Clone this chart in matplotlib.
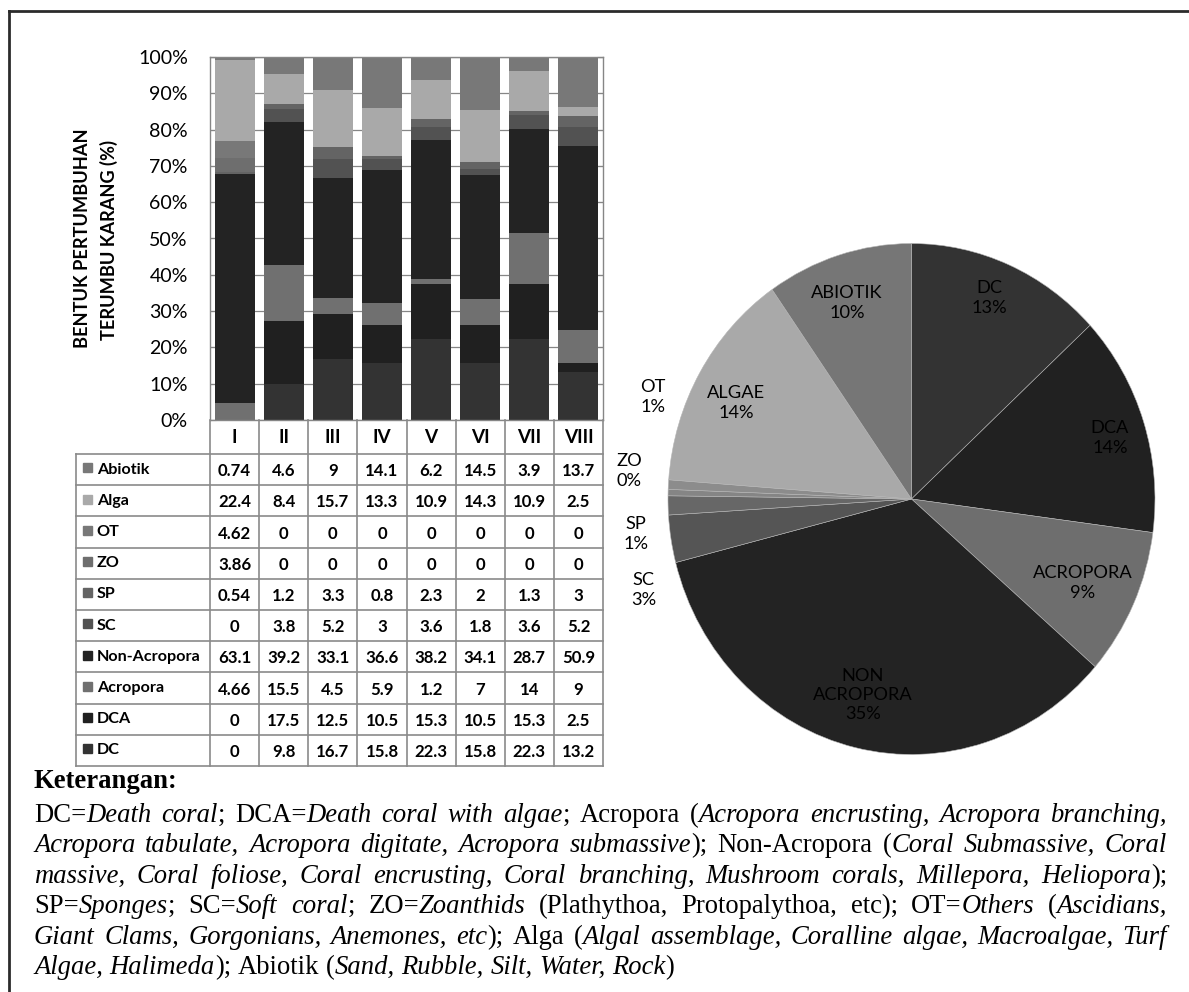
import numpy as np
import matplotlib
matplotlib.use('Agg')
import matplotlib.pyplot as plt
from matplotlib.patches import Rectangle

W, H = 1189, 992

# ---- data ----
stations = ['I', 'II', 'III', 'IV', 'V', 'VI', 'VII', 'VIII']

# stack order, bottom first
series = ['DC', 'DCA', 'Acropora', 'Non-Acropora', 'SC', 'SP', 'ZO', 'OT', 'Alga', 'Abiotik']
dc = [0, 9.8, 16.7, 15.8, 22.3, 15.8, 22.3, 13.2]
dca = [0, 17.5, 12.5, 10.5, 15.3, 10.5, 15.3, 2.5]
acropora = [4.66, 15.5, 4.5, 5.9, 1.2, 7, 14, 9]
non_acropora = [63.1, 39.2, 33.1, 36.6, 38.2, 34.1, 28.7, 50.9]
sc = [0, 3.8, 5.2, 3, 3.6, 1.8, 3.6, 5.2]
sp = [0.54, 1.2, 3.3, 0.8, 2.3, 2, 1.3, 3]
zo = [3.86, 0, 0, 0, 0, 0, 0, 0]
ot = [4.62, 0, 0, 0, 0, 0, 0, 0]
alga = [22.4, 8.4, 15.7, 13.3, 10.9, 14.3, 10.9, 2.5]
abiotik = [0.74, 4.6, 9, 14.1, 6.2, 14.5, 3.9, 13.7]
values = [dc, dca, acropora, non_acropora, sc, sp, zo, ot, alga, abiotik]
colors = ['#333333', '#202020', '#707070', '#232323', '#525252',
          '#646464', '#6e6e6e', '#787878', '#a9a9a9', '#787878']

pie_labels = ['DC', 'DCA', 'ACROPORA', 'NON\nACROPORA', 'SC', 'SP', 'ZO', 'OT', 'ALGAE', 'ABIOTIK']
pie_values = [13.1, 14.0, 9.3, 34.6, 3.0, 1.2, 0.4, 0.6, 14.1, 9.7]
pie_colors = ['#333333', '#212121', '#6e6e6e', '#232323', '#555555',
              '#676767', '#858585', '#8c8c8c', '#a9a9a9', '#767676']
# where Excel put each label (pie radius units)
pie_label_pos = [(0.318, 0.787), (0.815, 0.239), (0.704, -0.329), (-0.199, -0.767),
                 (-1.099, -0.356), (-1.131, -0.137), (-1.160, 0.110), (-1.062, 0.399),
                 (-0.721, 0.376), (-0.265, 0.767)]

caption_title = 'Keterangan:'
caption = [
    [('DC=', 0), ('Death coral', 1), ('; DCA=', 0), ('Death coral with algae', 1), ('; Acropora (', 0),
     ('Acropora encrusting, Acropora branching,', 1)],
    [('Acropora tabulate, Acropora digitate, Acropora submassive', 1), ('); Non-Acropora (', 0),
     ('Coral Submassive, Coral', 1)],
    [('massive, Coral foliose, Coral encrusting, Coral branching, Mushroom corals, Millepora, Heliopora', 1),
     (');', 0)],
    [('SP=', 0), ('Sponges', 1), ('; SC=', 0), ('Soft coral', 1), ('; ZO=', 0), ('Zoanthids', 1),
     (' (Plathythoa, Protopalythoa, etc); OT=', 0), ('Others', 1), (' (', 0), ('Ascidians,', 1)],
    [('Giant Clams, Gorgonians, Anemones, etc', 1), ('); Alga (', 0),
     ('Algal assemblage, Coralline algae, Macroalgae, Turf', 1)],
    [('Algae, Halimeda', 1), ('); Abiotik (', 0), ('Sand, Rubble, Silt, Water, Rock', 1), (')', 0)],
]

plt.rcParams['font.family'] = ['Lato', 'DejaVu Sans']


def box(l, t, r, b):
    return [l / W, 1 - b / H, (r - l) / W, (b - t) / H]


fig = plt.figure(figsize=(W / 100, H / 100), dpi=100)
fig.patch.set_facecolor('white')
renderer = fig.canvas.get_renderer()


def text_w(s, size, **kw):
    t = fig.text(0, 0, s, fontsize=size, **kw)
    w = t.get_window_extent(renderer).width
    t.remove()
    return w


def fit(s, target, **kw):
    # font size that makes s about target pixels wide
    return 10 * target / text_w(s, 10, **kw)


tick_size = fit('100%', 50)
ylab_size = fit('BENTUK PERTUMBUHAN', 221, fontweight='bold')
lab_size = fit('Non-Acropora', 104, fontweight='bold')
num_size = fit('63.1', 33, fontweight='bold')
head_size = fit('VIII', 30, fontweight='bold')
pie_size = fit('ACROPORA', 99)

# frame of the figure (left and top edges)
fig.add_artist(plt.Line2D([8.5 / W, 8.5 / W], [0, 1 - 10.5 / H], color='#2b2b2b', lw=2))
fig.add_artist(plt.Line2D([8.5 / W, 1], [1 - 10.5 / H, 1 - 10.5 / H], color='#2b2b2b', lw=2))

# ---- stacked 100% bars ----
ax = fig.add_axes(box(210, 57, 603, 420))
x = np.arange(len(stations))
totals = np.sum(np.array(values, dtype=float), axis=0)
bottom = np.zeros(len(stations))
for vals, c in zip(values, colors):
    pct = np.array(vals) / totals * 100
    ax.bar(x, pct, width=0.815, bottom=bottom, color=c, linewidth=0, zorder=2)
    bottom += pct
ax.set_xlim(-0.5, len(stations) - 0.5)
ax.set_ylim(0, 100)
ax.set_yticks(np.arange(0, 101, 10))
ax.set_yticklabels([f'{v}%' for v in range(0, 101, 10)])
ax.set_xticks([])
ax.yaxis.grid(True, color='#868686', lw=0.9, zorder=0)
ax.set_axisbelow(True)
for s in ax.spines.values():
    s.set_color('#868686')
    s.set_linewidth(1.0)
ax.tick_params(axis='y', direction='in', length=4, pad=16, left=True, right=True,
               color='#868686', labelsize=tick_size, labelcolor='black')

# two-line axis title, placed line by line
fig.text(83 / W, 1 - 238 / H, 'BENTUK PERTUMBUHAN', rotation=90,
         ha='center', va='center', fontsize=ylab_size, fontweight='bold')
fig.text(109 / W, 1 - 240 / H, 'TERUMBU KARANG (%)', rotation=90,
         ha='center', va='center', fontsize=ylab_size, fontweight='bold')

# ---- data table under the bars ----
lab_w = (210 - 75.7) / 49.1
hh = 34 / 31.2
nrow = len(series)
tax = fig.add_axes(box(75.7, 420, 603, 766))
tax.set_xlim(-0.5 - lab_w, len(stations) - 0.5)
tax.set_ylim(hh + nrow, 0)
tax.axis('off')
lc, lw = '#8a8a8a', 1.2
x0 = -0.5 - lab_w
x1 = len(stations) - 0.5
for i in range(nrow + 1):
    tax.plot([x0, x1], [hh + i, hh + i], color=lc, lw=lw, clip_on=False)
for k in range(len(stations) + 1):
    tax.plot([k - 0.5, k - 0.5], [0, hh + nrow], color=lc, lw=lw, clip_on=False)
tax.plot([x0, x0], [hh, hh + nrow], color=lc, lw=lw, clip_on=False)

for k, st in enumerate(stations):
    tax.text(k, hh / 2, st, ha='center', va='center', fontsize=head_size, fontweight='bold')

for i, idx in enumerate(range(nrow - 1, -1, -1)):
    yc = hh + i + 0.5
    tax.add_patch(Rectangle((x0 + 7.3 / 49.1, yc - 0.2), 9 / 49.1, 0.29,
                            color=colors[idx], clip_on=False))
    tax.text(x0 + 21 / 49.1, yc, series[idx], ha='left', va='center',
             fontsize=lab_size, fontweight='bold')
    for k in range(len(stations)):
        tax.text(k, yc + 0.05, f'{values[idx][k]:g}', ha='center', va='center',
                 fontsize=num_size, fontweight='bold')

# ---- pie ----
cx, cy, rx, ry = 911.5, 499, 243.5, 255.5
pax = fig.add_axes(box(cx - 1.1 * rx, cy - 1.1 * ry, cx + 1.1 * rx, cy + 1.1 * ry))
pax.pie(pie_values, colors=pie_colors, startangle=90, counterclock=False,
        wedgeprops=dict(edgecolor='#b5b5b5', linewidth=0.4))
pax.set_aspect('auto')
pax.set_xlim(-1.1, 1.1)
pax.set_ylim(-1.1, 1.1)
for lab, v, (px, py) in zip(pie_labels, pie_values, pie_label_pos):
    pax.text(px, py, f'{lab}\n{round(v)}%', ha='center', va='center', fontsize=pie_size,
             linespacing=1.25, color='black')

# ---- caption, justified like the source page ----
serif = 'Liberation Serif'


def words_of(line):
    words = [[]]
    for txt, it in line:
        parts = txt.split(' ')
        for j, p in enumerate(parts):
            if j > 0:
                words.append([])
            if p:
                words[-1].append((p, it))
    return [w for w in words if w]


def sw(p, it, size):
    return text_w(p, size, family=serif, style='italic' if it else 'normal')


left_x, right_x = 34, 1167
base0, step = 821.7, 30.5

# pick a size so the last (unjustified) line ends where it ends in the source
ref = 20
last = words_of(caption[-1])
sp_w = sw('a a', 0, ref) - sw('aa', 0, ref)
nat = sum(sw(p, it, ref) for w in last for p, it in w) + sp_w * (len(last) - 1)
size = ref * (675 - left_x) / nat

fig.text(left_x / W, 1 - 788 / H, caption_title, family=serif, fontweight='bold',
         fontsize=size, va='baseline')

for li, line in enumerate(caption):
    words = words_of(line)
    widths = [[sw(p, it, size) for p, it in w] for w in words]
    total = sum(sum(ws) for ws in widths)
    if li < len(caption) - 1:
        gap = (right_x - left_x - total) / (len(words) - 1)
    else:
        gap = sp_w * size / ref
    xpos = left_x
    yb = 1 - (base0 + li * step) / H
    for w, ws in zip(words, widths):
        for (p, it), pw in zip(w, ws):
            fig.text(xpos / W, yb, p, family=serif, style='italic' if it else 'normal',
                     fontsize=size, va='baseline')
            xpos += pw
        xpos += gap

fig.savefig('out.png', dpi=100)
